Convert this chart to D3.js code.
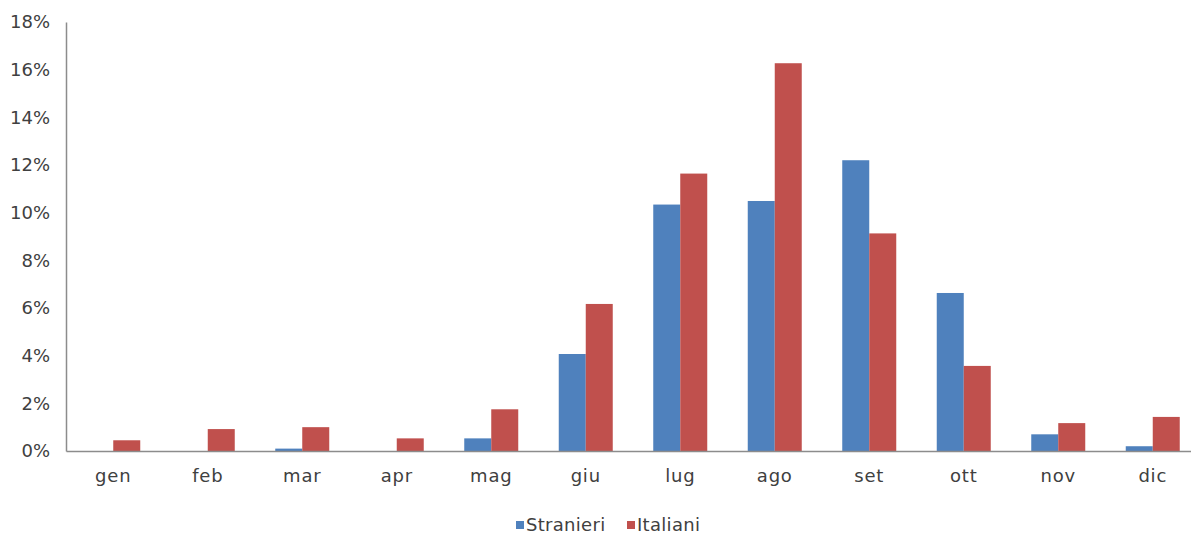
<!DOCTYPE html>
<html>
<head>
<meta charset="utf-8">
<script src="https://cdn.jsdelivr.net/npm/d3@7"></script>
<style>
  html, body { margin: 0; padding: 0; background: #fff; }
  svg { display: block; }
  text { font-family: "DejaVu Sans", sans-serif; fill: #404040; }
</style>
</head>
<body>
<svg id="chart" width="1191" height="534"></svg>
<script>
// Monthly share of arrivals by origin (percent)
const months = ["gen", "feb", "mar", "apr", "mag", "giu", "lug", "ago", "set", "ott", "nov", "dic"];
const seriesNames = ["Stranieri", "Italiani"];
const stranieri = [0, 0, 0.1, 0, 0.53, 4.07, 10.34, 10.49, 12.2, 6.63, 0.7, 0.2];
const italiani = [0.45, 0.92, 1.0, 0.53, 1.75, 6.17, 11.64, 16.27, 9.13, 3.57, 1.17, 1.43];
const yTicks = [0, 2, 4, 6, 8, 10, 12, 14, 16, 18];
const colors = ["#4F81BD", "#C0504D"];

const seriesValues = [stranieri, italiani];
const svg = d3.select("#chart");

const plot = { left: 66, right: 1200, top: 22, bottom: 451 };
const fontSize = 18;

const x = d3.scaleBand().domain(months).range([plot.left, plot.right]).padding(0);
const xSub = d3.scaleBand().domain(seriesNames).range([0, x.bandwidth()])
  .paddingInner(0).paddingOuter(0.75);
const y = d3.scaleLinear().domain([0, 18]).range([plot.bottom, plot.top]);
const color = d3.scaleOrdinal().domain(seriesNames).range(colors);

// Bars
const groups = svg.append("g").selectAll("g")
  .data(months)
  .join("g")
  .attr("transform", d => `translate(${x(d)},0)`);

groups.selectAll("rect")
  .data((m, i) => seriesNames.map((s, k) => ({ s, v: seriesValues[k][i] })))
  .join("rect")
  .attr("x", d => xSub(d.s))
  .attr("width", xSub.bandwidth())
  .attr("y", d => y(d.v))
  .attr("height", d => y(0) - y(d.v))
  .attr("fill", d => color(d.s));

// Y axis
const yAxis = d3.axisLeft(y).tickValues(yTicks).tickSize(0).tickPadding(16)
  .tickFormat(d => d + "%");
const yg = svg.append("g").attr("transform", `translate(${plot.left},0)`).call(yAxis);
yg.select(".domain").attr("stroke", "#8c8c8c").attr("stroke-width", 1.5);
yg.selectAll("text").attr("font-size", fontSize).attr("fill", "#404040")
  .attr("font-family", "DejaVu Sans");

// X axis
const xAxis = d3.axisBottom(x).tickSize(0).tickPadding(18);
const xg = svg.append("g").attr("transform", `translate(0,${plot.bottom})`).call(xAxis);
xg.select(".domain").attr("stroke", "#8c8c8c").attr("stroke-width", 1.5);
xg.selectAll("text").attr("font-size", fontSize).attr("fill", "#404040")
  .attr("font-family", "DejaVu Sans").attr("letter-spacing", 0.8);

// Legend
const legendPos = [516, 627];
const legend = svg.append("g");
seriesNames.forEach((s, k) => {
  const g = legend.append("g").attr("transform", `translate(${legendPos[k]},521)`);
  g.append("rect").attr("width", 8).attr("height", 8).attr("fill", color(s));
  g.append("text").attr("x", 10).attr("y", 4).attr("dy", "0.35em")
    .attr("font-size", fontSize).attr("letter-spacing", 0.3).text(s);
});
</script>
</body>
</html>
